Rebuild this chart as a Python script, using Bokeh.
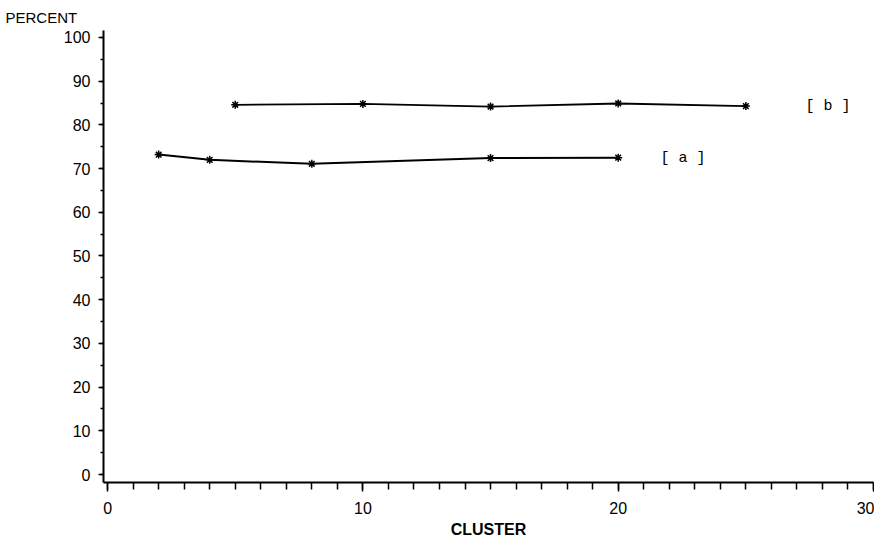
from bokeh.plotting import figure
from bokeh.models import Range1d, SingleIntervalTicker, Label, Title
from bokeh.embed import file_html
from bokeh.resources import INLINE

# data
a_x = [2, 4, 8, 15, 20]
a_y = [73.2, 72.0, 71.1, 72.4, 72.5]
b_x = [5, 10, 15, 20, 25]
b_y = [84.6, 84.8, 84.2, 84.9, 84.3]
series_labels = ["[ a ]", "[ b ]"]
label_pos_x = [21.66, 27.34]
label_pos_y = [72.2, 84.3]

TICK_FONT = "Liberation Sans"
MONO = "Liberation Mono"

p = figure(width=874, height=544, output_backend="svg", toolbar_location=None,
           x_range=Range1d(-0.16, 30.0), y_range=Range1d(-1.83, 101.6))
p.min_border_left = 103
p.min_border_right = 1
p.min_border_top = 30
p.min_border_bottom = 62
p.outline_line_color = None
p.xgrid.visible = False
p.ygrid.visible = False

p.title = Title(text="PERCENT", align="left", offset=-98, standoff=9,
                text_font=TICK_FONT, text_font_size="15px",
                text_font_style="normal", text_color="black")

p.xaxis.ticker = SingleIntervalTicker(interval=10, num_minor_ticks=10)
p.yaxis.ticker = SingleIntervalTicker(interval=10, num_minor_ticks=2)

for ax in (p.xaxis, p.yaxis):
    ax.axis_line_width = 2
    ax.axis_line_color = "black"
    ax.major_tick_line_color = "black"
    ax.minor_tick_line_color = "black"
    ax.major_tick_line_width = 1.5
    ax.minor_tick_line_width = 1.5
    ax.major_label_text_font = TICK_FONT
    ax.major_label_text_font_size = "16px"
    ax.major_label_text_color = "black"
    ax.major_tick_in = 0
    ax.minor_tick_in = 0

p.xaxis.major_tick_out = 9
p.xaxis.minor_tick_out = 7
p.xaxis.major_label_standoff = 10
p.xaxis.axis_label = "CLUSTER"
p.xaxis.axis_label_text_font = TICK_FONT
p.xaxis.axis_label_text_font_size = "16px"
p.xaxis.axis_label_text_font_style = "bold"
p.xaxis.axis_label_text_color = "black"
p.xaxis.axis_label_standoff = 4

p.yaxis.major_tick_out = 5
p.yaxis.minor_tick_out = 3
p.yaxis.major_label_standoff = 8

p.line(a_x, a_y, line_color="black", line_width=2)
p.scatter(a_x, a_y, marker="asterisk", size=8, line_color="black", line_width=1.5)
p.line(b_x, b_y, line_color="black", line_width=1.8)
p.scatter(b_x, b_y, marker="asterisk", size=8, line_color="black", line_width=1.5)

for t, lx, ly in zip(series_labels, label_pos_x, label_pos_y):
    p.add_layout(Label(x=lx, y=ly, text=t, text_font=MONO, text_font_size="15px",
                       text_font_style="normal",
                       text_color="black", text_baseline="middle", text_align="left"))

open("out.html", "w").write(file_html(p, INLINE))
